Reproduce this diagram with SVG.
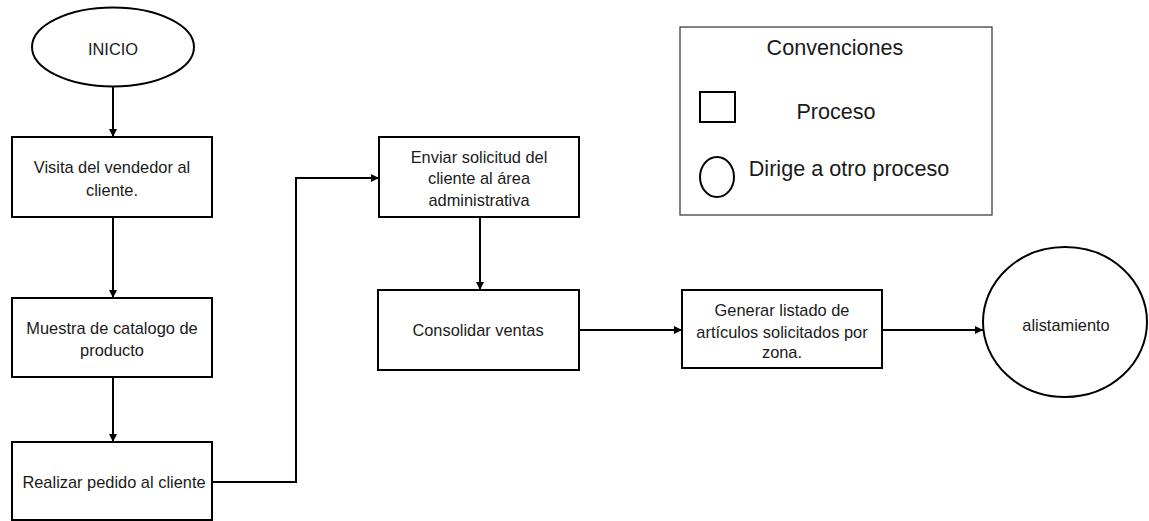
<svg xmlns="http://www.w3.org/2000/svg" width="1149" height="521" viewBox="0 0 1149 521">
<style>
.box{fill:#fff;stroke:#000;stroke-width:2}
.lg{fill:#fff;stroke:#404040;stroke-width:1.3}
.t{font-family:"Liberation Sans",Arial,sans-serif;font-size:16.4px;fill:#1a1a1a;text-anchor:middle}
.tl{font-family:"Liberation Sans",Arial,sans-serif;font-size:21.6px;fill:#1a1a1a;text-anchor:middle}
.c{fill:none;stroke:#000;stroke-width:2;marker-end:url(#ah)}
</style>
<defs>
<marker id="ah" viewBox="0 0 10 10" refX="10" refY="5" markerWidth="4.5" markerHeight="4" orient="auto" markerUnits="strokeWidth">
<path d="M0,0 L10,5 L0,10 z" fill="#000"/>
</marker>
</defs>
<rect width="1149" height="521" fill="#fff"/>
<g id="connectors">
<path class="c" d="M113,87 L113,137"/>
<path class="c" d="M113,217 L113,298"/>
<path class="c" d="M113,377 L113,442"/>
<path class="c" d="M212,482 L296,482 L296,178 L379,178"/>
<path class="c" d="M480,217 L480,290"/>
<path class="c" d="M579,330 L682,330"/>
<path class="c" d="M882,330 L983,330"/>
</g>
<g id="inicio">
<ellipse class="box" cx="113" cy="47" rx="81" ry="39.5"/>
<text class="t" x="113" y="55">INICIO</text>
</g>
<g id="visita">
<rect class="box" x="12" y="137" width="200" height="80"/>
<text class="t" x="112" y="173">Visita del vendedor al</text>
<text class="t" x="112" y="196">cliente.</text>
</g>
<g id="muestra">
<rect class="box" x="12" y="298" width="200" height="79"/>
<text class="t" x="112" y="334">Muestra de catalogo de</text>
<text class="t" x="112" y="356">producto</text>
</g>
<g id="realizar">
<rect class="box" x="12" y="442" width="200" height="78"/>
<text class="t" x="114" y="488">Realizar pedido al cliente</text>
</g>
<g id="enviar">
<rect class="box" x="379" y="137" width="200" height="80"/>
<text class="t" x="479" y="163">Enviar solicitud del</text>
<text class="t" x="479" y="184">cliente al área</text>
<text class="t" x="479" y="206">administrativa</text>
</g>
<g id="consolidar">
<rect class="box" x="378" y="290" width="201" height="80"/>
<text class="t" x="478" y="336">Consolidar ventas</text>
</g>
<g id="generar">
<rect class="box" x="682" y="290" width="200" height="78"/>
<text class="t" x="782" y="316">Generar listado de</text>
<text class="t" x="782" y="338">artículos solicitados por</text>
<text class="t" x="782" y="358">zona.</text>
</g>
<g id="alistamiento">
<ellipse class="box" cx="1065" cy="322" rx="82" ry="75"/>
<text class="t" x="1066" y="331">alistamiento</text>
</g>
<g id="convenciones">
<rect class="lg" x="680" y="27" width="312" height="188"/>
<text class="tl" x="835" y="55">Convenciones</text>
<rect class="box" x="700" y="92" width="35" height="30" stroke-width="1.6"/>
<text class="tl" x="836" y="119">Proceso</text>
<ellipse class="box" cx="717" cy="177" rx="17" ry="20" stroke-width="1.6"/>
<text class="tl" x="849" y="176">Dirige a otro proceso</text>
</g>
</svg>
